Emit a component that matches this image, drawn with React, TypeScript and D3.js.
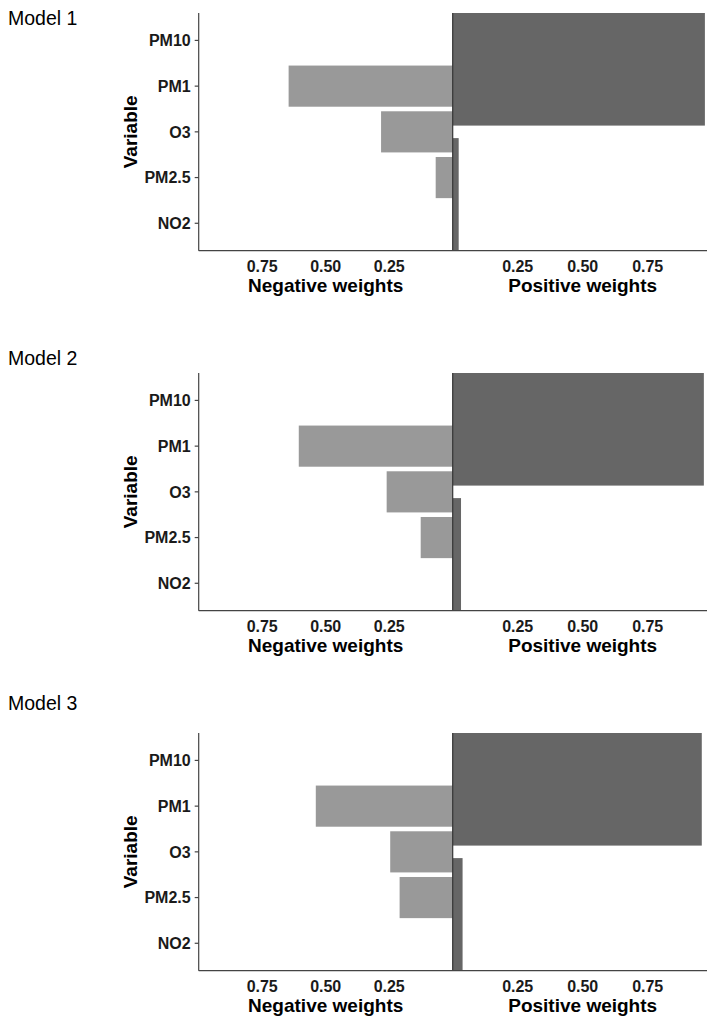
import React from "react";
import * as d3 from "d3";

const categories = ["PM10", "PM1", "O3", "PM2.5", "NO2"];
const modelNames = ["Model 1", "Model 2", "Model 3"];
const negModel1 = [0, 0.646, 0.282, 0.067, 0];
const negModel2 = [0, 0.606, 0.26, 0.126, 0];
const negModel3 = [0, 0.539, 0.246, 0.209, 0];
const posCategories = ["PM10", "NO2"];
const posModel1 = [0.97, 0.023];
const posModel2 = [0.966, 0.032];
const posModel3 = [0.958, 0.038];
const negTicks = [0.75, 0.5, 0.25];
const posTicks = [0.25, 0.5, 0.75];

const negSeries = [negModel1, negModel2, negModel3];
const posSeries = [posModel1, posModel2, posModel3];

const W = 707;
const H = 1018;
const FONT = "'Liberation Sans', Arial, sans-serif";
const panelTops = [13, 373, 733];
const titleBaselines = [25, 365, 710];
const plotH = 237.7;
const left = 198.7;
const zero = 452.7;
const rightEnd = 712.7;

function Panel({ idx }: { idx: number }) {
  const top = panelTops[idx];
  const bottom = top + plotH;
  const xNeg = d3.scaleLinear().domain([1, 0]).range([left, zero]);
  const xPos = d3.scaleLinear().domain([0, 1]).range([zero, rightEnd]);
  const yc = d3.scalePoint().domain(categories).range([top, bottom]).padding(0.6);
  const yPos = d3.scaleBand().domain(posCategories).range([top, bottom]).paddingInner(0.1).paddingOuter(0);
  const neg = negSeries[idx];
  const pos = posSeries[idx];
  const bw = yc.step() * 0.9;
  return (
    <g>
      <text x={8} y={titleBaselines[idx]} fontSize={19.5} fontFamily={FONT} fill="#000">
        {modelNames[idx]}
      </text>
      {neg.map((v, i) =>
        v > 0 ? (
          <rect
            key={"n" + i}
            x={xNeg(v)}
            y={(yc(categories[i]) as number) - bw / 2}
            width={zero - xNeg(v)}
            height={bw}
            fill="#999999"
          />
        ) : null
      )}
      {pos.map((v, i) => (
        <rect
          key={"p" + i}
          x={zero}
          y={yPos(posCategories[i]) as number}
          width={xPos(v) - zero}
          height={yPos.bandwidth()}
          fill="#666666"
        />
      ))}
      <line x1={zero} x2={zero} y1={top} y2={bottom} stroke="#333" strokeWidth={1.2} />
      <line x1={left} x2={left} y1={top} y2={bottom} stroke="#444" strokeWidth={1.2} />
      <line x1={left} x2={W} y1={bottom} y2={bottom} stroke="#444" strokeWidth={1.2} />
      {categories.map((c) => (
        <g key={c}>
          <line x1={left - 4} x2={left} y1={yc(c)} y2={yc(c)} stroke="#444" strokeWidth={1.2} />
          <text
            x={left - 8}
            y={yc(c) as number}
            dy="0.36em"
            textAnchor="end"
            fontSize={16}
            fontWeight="bold"
            fontFamily={FONT}
            fill="#1a1a1a"
          >
            {c}
          </text>
        </g>
      ))}
      {negTicks.map((t) => (
        <text
          key={"nt" + t}
          x={xNeg(t)}
          y={bottom + 21}
          textAnchor="middle"
          fontSize={16}
          fontWeight="bold"
          fontFamily={FONT}
          fill="#1a1a1a"
        >
          {d3.format(".2f")(t)}
        </text>
      ))}
      {posTicks.map((t) => (
        <text
          key={"pt" + t}
          x={xPos(t)}
          y={bottom + 21}
          textAnchor="middle"
          fontSize={16}
          fontWeight="bold"
          fontFamily={FONT}
          fill="#1a1a1a"
        >
          {d3.format(".2f")(t)}
        </text>
      ))}
      <text
        x={(left + zero) / 2}
        y={bottom + 41}
        textAnchor="middle"
        fontSize={19}
        fontWeight="bold"
        fontFamily={FONT}
        fill="#000"
      >
        Negative weights
      </text>
      <text
        x={(zero + rightEnd) / 2}
        y={bottom + 41}
        textAnchor="middle"
        fontSize={19}
        fontWeight="bold"
        fontFamily={FONT}
        fill="#000"
      >
        Positive weights
      </text>
      <text
        transform={`translate(${137},${(top + bottom) / 2}) rotate(-90)`}
        textAnchor="middle"
        fontSize={19}
        fontWeight="bold"
        fontFamily={FONT}
        fill="#000"
      >
        Variable
      </text>
    </g>
  );
}

export default function App() {
  return (
    <svg
      width={W}
      height={H}
      viewBox={`0 0 ${W} ${H}`}
      style={{ position: "absolute", left: 0, top: 0, background: "#fff" }}
    >
      <rect x={0} y={0} width={W} height={H} fill="#fff" />
      {modelNames.map((m, i) => (
        <Panel key={m} idx={i} />
      ))}
    </svg>
  );
}
